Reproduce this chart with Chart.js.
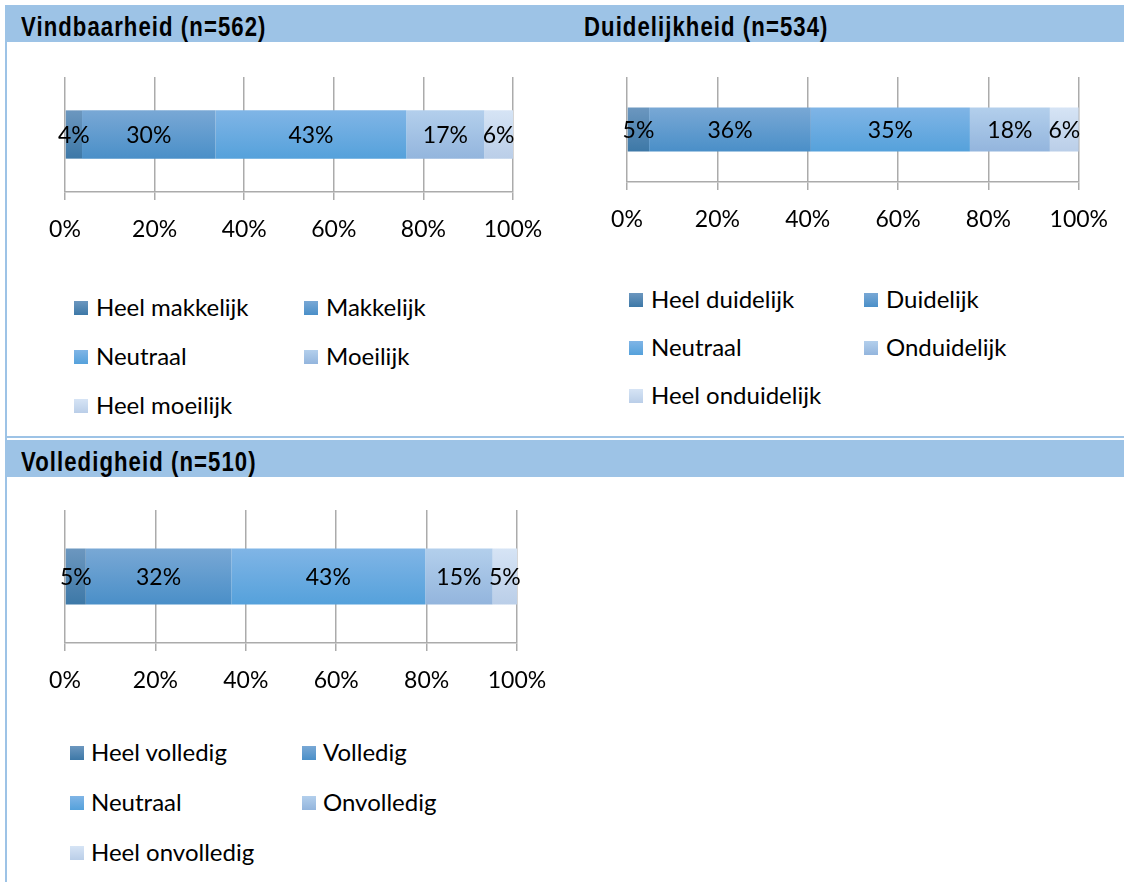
<!DOCTYPE html>
<html>
<head>
<meta charset="utf-8">
<script src="https://cdn.jsdelivr.net/npm/chart.js@4.4.1/dist/chart.umd.min.js"></script>
<style>
  body { margin: 0; background: #fff; }
  #page { position: relative; width: 1124px; height: 882px; overflow: hidden; background: #fff; }
  .band { position: absolute; background: #9DC3E6; }
  .title { position: absolute; font-family: "Liberation Sans", Arial, sans-serif; font-weight: bold;
           font-size: 27px; letter-spacing: 1.3px; color: #000; line-height: 1; white-space: nowrap;
           transform: scaleX(0.82); transform-origin: 0 0; }
  canvas { position: absolute; }
  .lg { position: absolute; font-family: Lato, "Open Sans", sans-serif; font-size: 24px; color: #000;
        line-height: 1; white-space: nowrap; }
  .sw { position: absolute; width: 14px; height: 14px; }
</style>
</head>
<body>
<div id="page">
  <div class="band" style="left:5px;top:5px;width:1119px;height:37px"></div>
  <div class="title" style="left:21px;top:14px">Vindbaarheid (n=562)</div>
  <div class="title" style="left:584px;top:14px">Duidelijkheid (n=534)</div>
  <div class="band" style="left:5px;top:42px;width:2px;height:840px"></div>
  <div class="band" style="left:5px;top:436px;width:1119px;height:2px"></div>
  <div class="band" style="left:5px;top:440px;width:1119px;height:37px"></div>
  <div class="title" style="left:21px;top:449px">Volledigheid (n=510)</div>

  <canvas id="c1" width="577" height="220" style="left:0;top:42px"></canvas>
  <canvas id="c2" width="547" height="220" style="left:577px;top:42px"></canvas>
  <canvas id="c3" width="577" height="240" style="left:0;top:476px"></canvas>
  <div id="legends"></div>
</div>
<script>
// data (percentages)
const vindLabels = ['Heel makkelijk', 'Makkelijk', 'Neutraal', 'Moeilijk', 'Heel moeilijk'];
const vindValues = [3.8, 29.8, 42.6, 17.4, 6.4];

const duidLabels = ['Heel duidelijk', 'Duidelijk', 'Neutraal', 'Onduidelijk', 'Heel onduidelijk'];
const duidValues = [4.9, 35.8, 35.2, 17.7, 6.4];

const vollLabels = ['Heel volledig', 'Volledig', 'Neutraal', 'Onvolledig', 'Heel onvolledig'];
const vollValues = [4.6, 32.2, 42.9, 14.9, 5.4];

const xTicks = [0, 20, 40, 60, 80, 100];

// top / bottom colour of each gradient fill
const colorTop = ['#6C97BF', '#79A8D5', '#80B5E6', '#B3CFEC', '#D6E4F5'];
const colorBottom = ['#3D78A7', '#4A8FC8', '#55A1DB', '#93B5DD', '#BACEE8'];

const BAR = 0.42;
const FONT = 'Lato, "Open Sans", sans-serif';

const gradFill = (i) => (ctx) => {
  const chart = ctx.chart;
  const area = chart.chartArea;
  if (!area) return colorBottom[i];
  const mid = chart.scales.y.getPixelForValue(0);
  const half = (area.bottom - area.top) * BAR / 2;
  const g = chart.ctx.createLinearGradient(0, mid - half, 0, mid + half);
  g.addColorStop(0, colorTop[i]);
  g.addColorStop(1, colorBottom[i]);
  return g;
};

const valueLabels = {
  id: 'valueLabels',
  afterDatasetsDraw(chart) {
    const c = chart.ctx;
    c.save();
    c.font = '23px ' + FONT;
    c.fillStyle = '#000';
    c.textAlign = 'center';
    c.textBaseline = 'middle';
    chart.data.datasets.forEach((ds, i) => {
      chart.getDatasetMeta(i).data.forEach((el, j) => {
        c.fillText(Math.round(ds.data[j]) + '%', (el.x + el.base) / 2, el.y + 1);
      });
    });
    c.restore();
  }
};

const renderChart = (id, labels, values, pad, axisH) => {
  const ctx = document.getElementById(id).getContext('2d');
  new Chart(ctx, {
    type: 'bar',
    data: {
      labels: [''],
      datasets: labels.map((l, i) => ({
        label: l,
        data: [values[i]],
        backgroundColor: gradFill(i),
        borderWidth: 0,
        barPercentage: BAR,
        categoryPercentage: 1,
      })),
    },
    options: {
      indexAxis: 'y',
      responsive: false,
      animation: false,
      layout: { padding: pad },
      plugins: { legend: { display: false }, tooltip: { enabled: false } },
      scales: {
        x: {
          stacked: true,
          min: 0,
          max: 100,
          afterBuildTicks: (scale) => { scale.ticks = xTicks.map(v => ({ value: v })); },
          afterFit: (scale) => { scale.height = axisH; },
          grid: { color: '#ABABAB', lineWidth: 1.5, tickLength: 8 },
          border: { color: '#ABABAB', width: 1.5 },
          ticks: {
            padding: 16,
            color: '#000',
            font: { family: FONT, size: 23 },
            maxRotation: 0,
            callback: (v) => v + '%',
          },
        },
        y: { stacked: true, display: false },
      },
    },
    plugins: [valueLabels],
  });
};

const renderLegend = (labels, cols, rows) => {
  const box = document.getElementById('legends');
  labels.forEach((l, i) => {
    const col = cols[i % 2];
    const y = rows[Math.floor(i / 2)];
    const sw = document.createElement('div');
    sw.className = 'sw';
    sw.style.left = col[0] + 'px';
    sw.style.top = (y - 7) + 'px';
    sw.style.background = 'linear-gradient(' + colorTop[i] + ',' + colorBottom[i] + ')';
    box.appendChild(sw);
    const t = document.createElement('div');
    t.className = 'lg';
    t.style.left = col[1] + 'px';
    t.style.top = (y - 13) + 'px';
    t.textContent = l;
    box.appendChild(t);
  });
};

renderChart('c1', vindLabels, vindValues, { left: 65, right: 64, top: 35, bottom: 0 }, 70);
renderChart('c2', duidLabels, duidValues, { left: 50, right: 41, top: 35, bottom: 0 }, 80);
renderChart('c3', vollLabels, vollValues, { left: 65, right: 60, top: 34, bottom: 0 }, 73);

renderLegend(vindLabels, [[74, 96], [304, 326]], [308, 357, 406]);
renderLegend(duidLabels, [[629, 651], [864, 886]], [300, 348, 396]);
renderLegend(vollLabels, [[70, 91], [302, 323]], [753, 803, 853]);
</script>
</body>
</html>
